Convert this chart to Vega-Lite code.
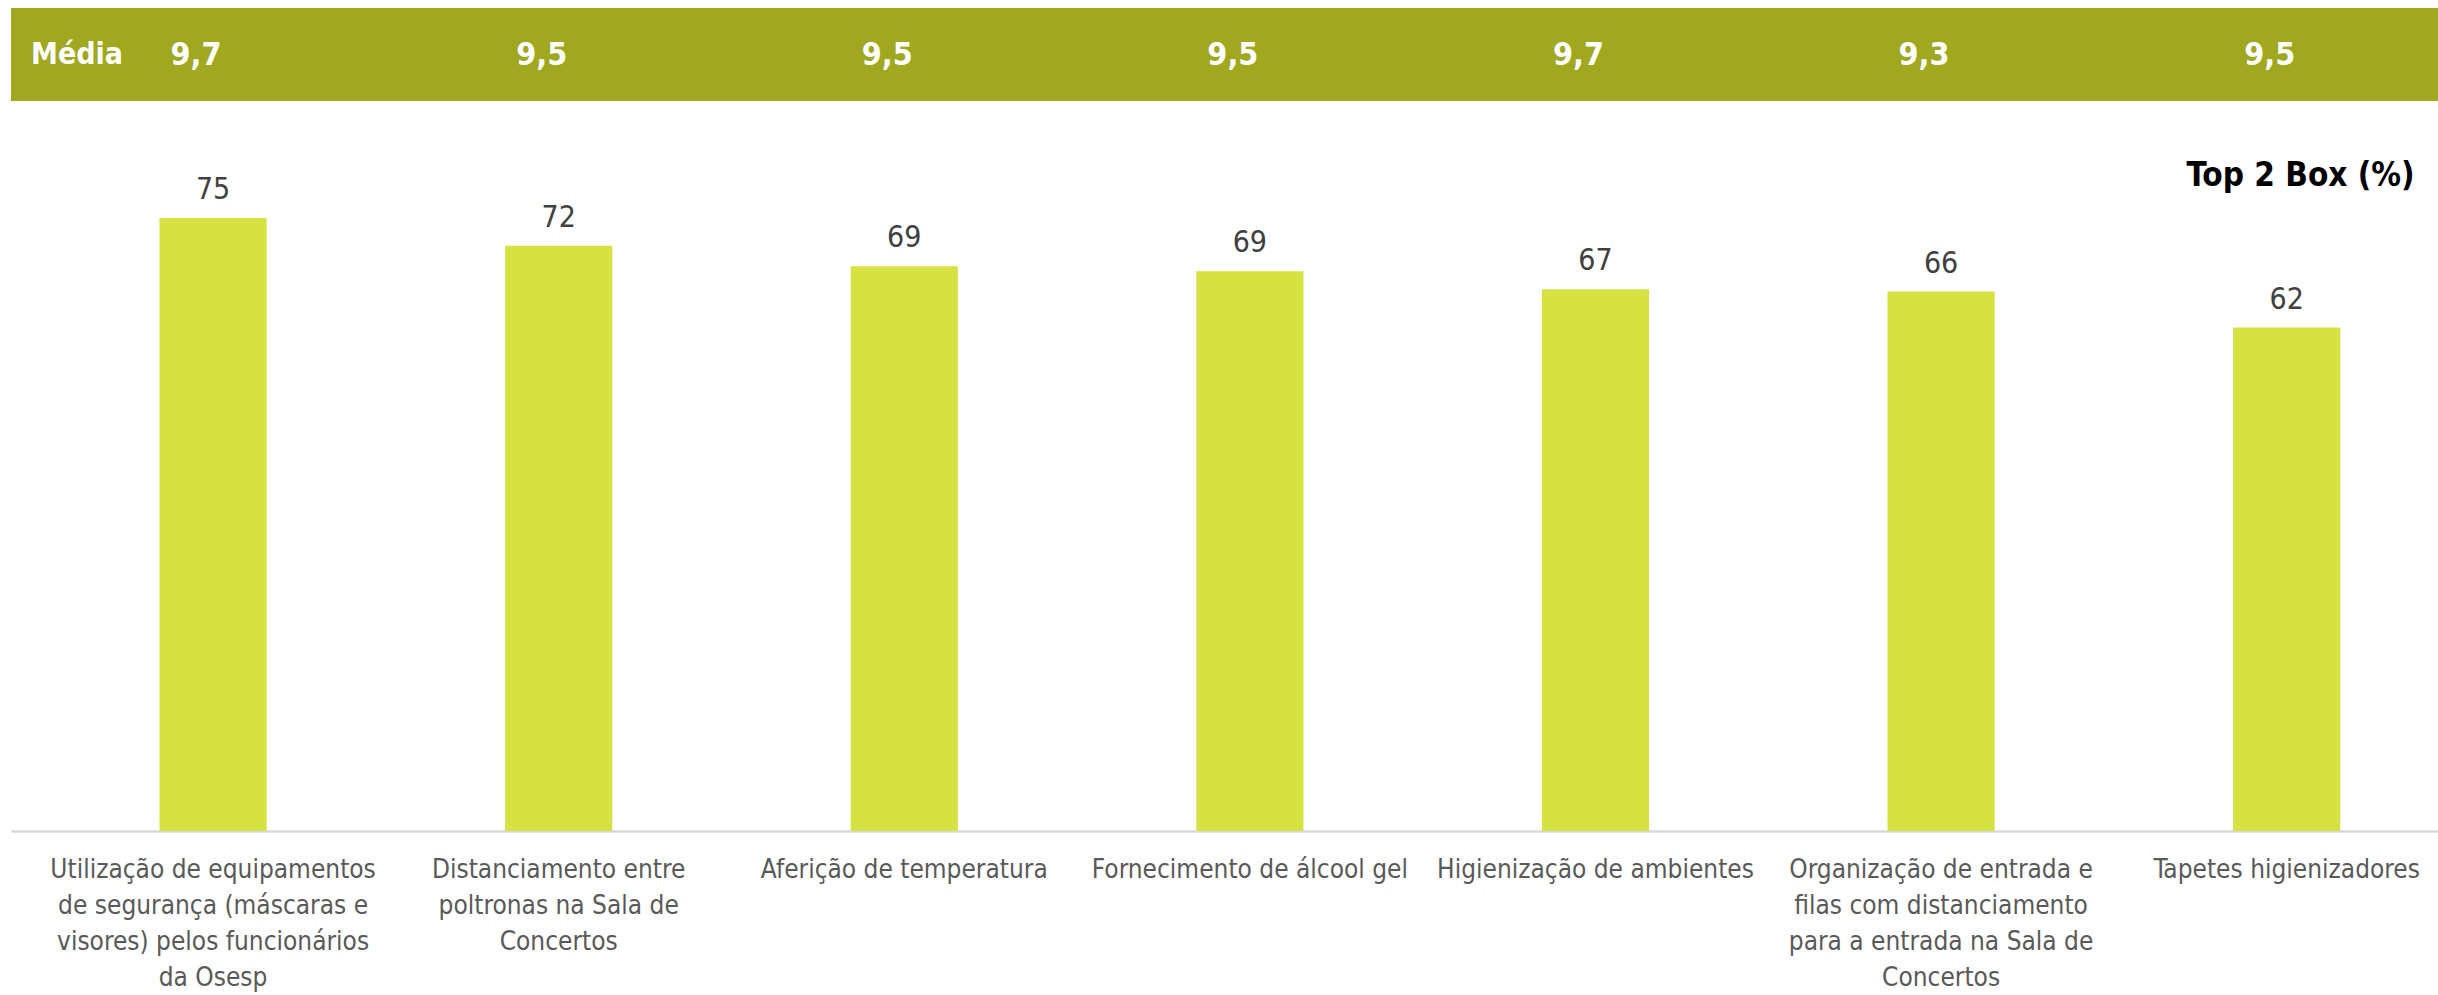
{
  "$schema": "https://vega.github.io/schema/vega-lite/v6.json",
  "width": 2427,
  "height": 823,
  "autosize": {"type": "none"},
  "padding": {"left": 11, "top": 8, "right": 0, "bottom": 164},
  "background": "white",
  "config": {"view": {"stroke": null}, "font": "DejaVu Sans Condensed"},
  "data": {
    "values": [
      {"item": "Utilização de equipamentos de segurança (máscaras e visores) pelos funcionários da Osesp", "lines": ["Utilização de equipamentos", "de segurança (máscaras e", "visores) pelos funcionários", "da Osesp"], "top2box": 75.0, "label": "75", "media": "9,7"},
      {"item": "Distanciamento entre poltronas na Sala de Concertos", "lines": ["Distanciamento entre", "poltronas na Sala de", "Concertos"], "top2box": 71.6, "label": "72", "media": "9,5"},
      {"item": "Aferição de temperatura", "lines": ["Aferição de temperatura"], "top2box": 69.1, "label": "69", "media": "9,5"},
      {"item": "Fornecimento de álcool gel", "lines": ["Fornecimento de álcool gel"], "top2box": 68.5, "label": "69", "media": "9,5"},
      {"item": "Higienização de ambientes", "lines": ["Higienização de ambientes"], "top2box": 66.3, "label": "67", "media": "9,7"},
      {"item": "Organização de entrada e filas com distanciamento para a entrada na Sala de Concertos", "lines": ["Organização de entrada e", "filas com distanciamento", "para a entrada na Sala de", "Concertos"], "top2box": 66.0, "label": "66", "media": "9,3"},
      {"item": "Tapetes higienizadores", "lines": ["Tapetes higienizadores"], "top2box": 61.6, "label": "62", "media": "9,5"}
    ]
  },
  "encoding": {
    "x": {
      "field": "item",
      "type": "nominal",
      "sort": null,
      "scale": {"paddingInner": 0.69, "paddingOuter": 0.3563, "align": 0.603},
      "axis": {"title": null, "labels": false, "ticks": false, "domain": true, "domainColor": "#D9D9D9", "domainWidth": 2.5, "grid": false}
    }
  },
  "layer": [
    {
      "mark": {"type": "rect", "color": "#A0A81F"},
      "encoding": {
        "x": null,
        "y": {"datum": 89.36, "type": "quantitative", "scale": {"domain": [0, 100.7], "nice": false, "zero": true}, "axis": null},
        "y2": {"datum": 100.7}
      }
    },
    {
      "mark": {"type": "bar", "color": "#D6E142"},
      "encoding": {
        "y": {"field": "top2box", "type": "quantitative", "scale": {"domain": [0, 100.7], "nice": false}, "axis": null}
      }
    },
    {
      "mark": {"type": "text", "fontSize": 30, "color": "#404040", "baseline": "alphabetic", "dy": -19},
      "encoding": {
        "y": {"field": "top2box", "type": "quantitative"},
        "text": {"field": "label"}
      }
    },
    {
      "mark": {"type": "text", "fontSize": 32, "fontWeight": "bold", "color": "white", "baseline": "middle", "dx": -17},
      "encoding": {
        "y": {"datum": 95.0, "type": "quantitative"},
        "text": {"field": "media"}
      }
    },
    {
      "mark": {"type": "text", "fontSize": 26, "color": "#595959", "baseline": "top", "align": "center", "lineHeight": 36, "dy": 26},
      "encoding": {
        "y": {"datum": 0, "type": "quantitative"},
        "text": {"field": "lines"}
      }
    },
    {
      "data": {"values": [{"item": "Utilização de equipamentos de segurança (máscaras e visores) pelos funcionários da Osesp", "txt": "Média"}]},
      "mark": {"type": "text", "fontSize": 30, "fontWeight": "bold", "color": "white", "baseline": "middle", "align": "left", "dx": -182},
      "encoding": {
        "y": {"datum": 95.0, "type": "quantitative"},
        "text": {"field": "txt"}
      }
    },
    {
      "data": {"values": [{"item": "Tapetes higienizadores", "txt": "Top 2 Box (%)"}]},
      "mark": {"type": "text", "fontSize": 33, "fontWeight": "bold", "color": "black", "baseline": "middle", "align": "right", "dx": 128},
      "encoding": {
        "y": {"datum": 80.1, "type": "quantitative"},
        "text": {"field": "txt"}
      }
    }
  ]
}
